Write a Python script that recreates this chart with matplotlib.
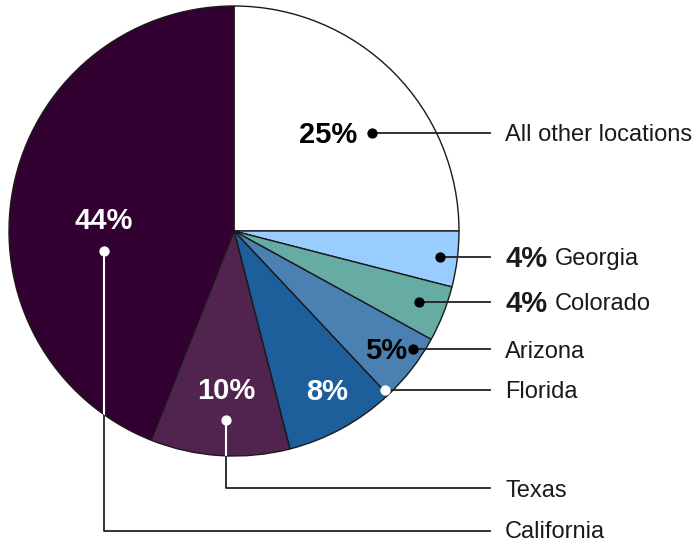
import matplotlib
matplotlib.use("Agg")
import matplotlib.pyplot as plt

plt.rcParams['font.family'] = ['Liberation Sans', 'DejaVu Sans']

# data (clockwise from 12 o'clock)
locations = ['All other locations', 'Georgia', 'Colorado', 'Arizona',
             'Florida', 'Texas', 'California']
shares = [25, 4, 4, 5, 8, 10, 44]
slice_colors = ['#ffffff', '#99ccff', '#66aca4', '#4b80b3',
                '#1c5f9b', '#512450', '#320031']

W, H = 696, 544

# layout in pixel coords (y from top)
cx, cy, r = 234, 231, 225
pct_pos = [(328, 135), (None, None), (None, None), (386, 351),
           (327, 392), (226, 391), (104, 221)]
dot_pos = [(372, 133), (440, 257), (419, 302), (413, 349),
           (385, 390), (226, 420), (104, 251)]
elbow = [None, None, None, None, None, (226, 488), (104, 531)]
label_y = [135, 259, 304, 352, 392, 491, 532]
dark = [False, False, False, False, True, True, True]

fig = plt.figure(figsize=(W / 100, H / 100), dpi=100)
ax = fig.add_axes([0, 0, 1, 1])

wedges, _ = ax.pie(shares, colors=slice_colors, startangle=90,
                   counterclock=False, center=(cx, H - cy), radius=r,
                   wedgeprops=dict(edgecolor='#1a1a1a', linewidth=1.0))
ax.set_xlim(0, W)
ax.set_ylim(0, H)
ax.set_aspect('auto')
ax.axis('off')

for i, name in enumerate(locations):
    dx, dy = dot_pos[i]
    pts = [(dx, dy)]
    if elbow[i] is not None:
        pts.append(elbow[i])
        pts.append((490, elbow[i][1]))
    else:
        pts.append((490, dy))
    xs = [p[0] for p in pts]
    ys = [H - p[1] for p in pts]
    ax.plot(xs, ys, color='#222222', lw=1.3, zorder=3)
    if dark[i]:
        wl, = ax.plot(xs, ys, color='white', lw=1.5, zorder=4)
        wl.set_clip_path(wedges[i])
    dc = 'white' if dark[i] else 'black'
    ax.scatter([dx], [H - dy], s=55, color=dc, zorder=5, linewidths=0)

    # percentage inside the pie
    px, py = pct_pos[i]
    if px is not None:
        ax.text(px, H - py, f'{shares[i]}%', ha='center', va='center',
                fontsize=21, fontweight='bold',
                color='white' if dark[i] else 'black', zorder=6)
        ax.text(505, H - label_y[i], name, ha='left', va='center',
                fontsize=17, color='#1a1a1a')
    else:
        ax.text(505, H - label_y[i], f'{shares[i]}%', ha='left', va='center',
                fontsize=21, fontweight='bold', color='#1a1a1a')
        ax.text(555, H - label_y[i], name, ha='left', va='center',
                fontsize=17, color='#1a1a1a')

fig.savefig('out.png', dpi=100)
